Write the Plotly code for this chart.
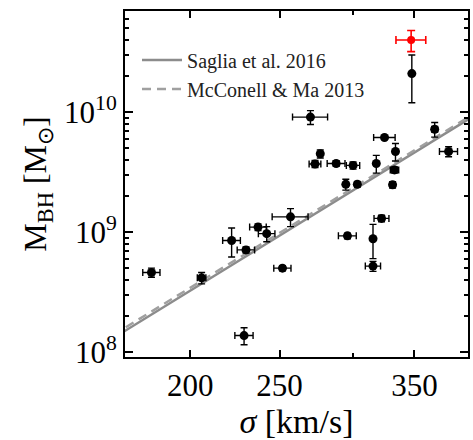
import numpy as np
import plotly.graph_objects as go

# ---- data ----
sigma = [181.6, 205.8, 221.8, 229.9, 236.9, 242.1, 256.9, 251.8, 228.8, 270.0,
         276.7, 273.1, 287.9, 300.3, 294.9, 303.5, 318.2, 324.8, 333.8, 333.0,
         331.4, 368.1, 381.1, 322.4, 296.1, 315.6, 315.6, 347.7]
sigma_err = [3.9, 2.2, 4.9, 5.0, 4.9, 5.0, 11.5, 5.4, 5.2, 11.8,
             0.0, 4.0, 6.4, 5.0, 1.5, 2.0, 0.0, 8.7, 0.0, 3.5,
             1.5, 2.7, 8.6, 6.0, 6.6, 0.0, 6.0, 0.0]
mbh = [4.6e8, 4.15e8, 8.5e8, 7.1e8, 1.10e9, 9.7e8, 1.34e9, 5.0e8, 1.37e8, 9.1e9,
       4.5e9, 3.7e9, 3.73e9, 3.6e9, 2.5e9, 2.5e9, 3.73e9, 6.15e9, 4.7e9, 3.3e9,
       2.48e9, 7.2e9, 4.7e9, 1.30e9, 9.3e8, 8.8e8, 5.2e8, 2.1e10]
mbh_err = [0.4e8, 0.45e8, 2.3e8, 0.4e8, 0.07e9, 1.4e8, 0.23e9, 0.25e8, 0.22e8, 1.2e9,
           0.35e9, 0.25e9, 0.2e9, 0.25e9, 0.26e9, 0.1e9, 0.63e9, 0.15e9, 0.78e9, 0.2e9,
           0.15e9, 1.0e9, 0.45e9, 0.08e9, 0.05e9, 2.8e8, 0.5e8, 0.9e10]

red_sigma = [347.1]
red_sigma_err = [12.9]
red_mbh = [4.0e10]
red_mbh_err = [0.8e10]

# relations: log M = a + b log(sigma/200)
saglia_a, saglia_b = 8.511, 4.745
mcconnell_a, mcconnell_b = 8.535, 4.72
line_sigma = np.array([165.0, 410.0])

x_tickvals = [200, 250, 350]
x_ticktext = ["200", "250", "350"]
y_tickvals = [1e8, 1e9, 1e10]
y_ticktext = ["10<sup>8</sup>", "10<sup>9</sup>", "10<sup>10</sup>"]

FONT = "Liberation Serif"

fig = go.Figure()

fig.add_trace(go.Scatter(
    x=line_sigma, y=10 ** (saglia_a + saglia_b * np.log10(line_sigma / 200.0)),
    mode="lines", line=dict(color="#8c8c8c", width=2.5),
    name="Saglia et al. 2016"))
fig.add_trace(go.Scatter(
    x=line_sigma, y=10 ** (mcconnell_a + mcconnell_b * np.log10(line_sigma / 200.0)),
    mode="lines", line=dict(color="#a0a0a0", width=2.5, dash="9px,6px"),
    name="McConell & Ma 2013"))

fig.add_trace(go.Scatter(
    x=sigma, y=mbh, mode="markers",
    marker=dict(color="black", size=9),
    error_x=dict(type="data", array=sigma_err, color="black", thickness=1.4, width=3.5),
    error_y=dict(type="data", array=mbh_err, color="black", thickness=1.4, width=3.5),
    showlegend=False))
fig.add_trace(go.Scatter(
    x=red_sigma, y=red_mbh, mode="markers",
    marker=dict(color="red", size=8),
    error_x=dict(type="data", array=red_sigma_err, color="red", thickness=1.6, width=4),
    error_y=dict(type="data", array=red_mbh_err, color="red", thickness=1.6, width=4),
    showlegend=False))

axis_common = dict(
    showline=True, linecolor="black", linewidth=2, mirror="allticks",
    ticks="inside", tickcolor="black", showgrid=False, zeroline=False,
    tickfont=dict(family=FONT, size=31, color="black"),
)

fig.update_xaxes(
    type="log", range=[np.log10(170), np.log10(400)],
    tickmode="array", tickvals=x_tickvals, ticktext=x_ticktext,
    ticklen=7, tickwidth=1.5,
    minor=dict(tickmode="array", tickvals=[300], ticklen=4, tickcolor="black", ticks="inside"),
    title=dict(text="<i>σ</i> [km/s]", font=dict(family=FONT, size=34, color="black"), standoff=6),
    **axis_common)

y_minor = [m * 10 ** e for e in (7, 8, 9, 10) for m in range(2, 10)]
fig.update_yaxes(
    type="log", range=[7.958, 10.844],
    tickmode="array", tickvals=y_tickvals, ticktext=y_ticktext,
    ticklen=8, tickwidth=1.5,
    minor=dict(tickmode="array", tickvals=y_minor, ticklen=4, tickcolor="black", ticks="inside"),
    title=dict(text="M<sub>BH</sub> [M<sub>⊙</sub>]", font=dict(family=FONT, size=32, color="black"), standoff=8),
    **axis_common)

fig.update_layout(
    width=473, height=440,
    margin=dict(l=125, r=3, t=11, b=83),
    paper_bgcolor="white", plot_bgcolor="white",
    font=dict(family=FONT, color="black"),
    legend=dict(x=0.035, y=0.915, xanchor="left", yanchor="top",
                bgcolor="rgba(0,0,0,0)", font=dict(family=FONT, size=20, color="#222"),
                itemwidth=40),
)

fig.write_html("out.html")
